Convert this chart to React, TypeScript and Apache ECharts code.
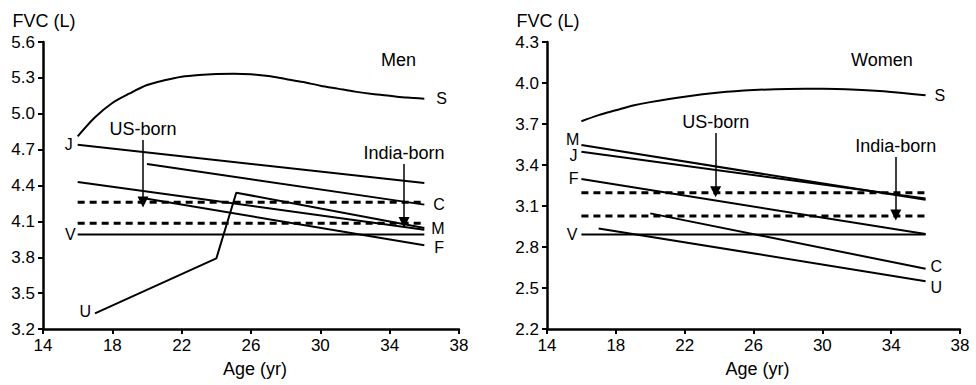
import React, { useEffect, useRef } from "react";
import * as echarts from "echarts";

const FONT = "'Liberation Sans', Arial, sans-serif";

const xTicks = [14, 18, 22, 26, 30, 34, 38];
const menYTicks = [3.2, 3.5, 3.8, 4.1, 4.4, 4.7, 5.0, 5.3, 5.6];
const womenYTicks = [2.2, 2.5, 2.8, 3.1, 3.4, 3.7, 4.0, 4.3];

// ---- Men ----
const menS_age = [16, 17, 18, 19, 20, 21, 22, 23, 24, 25, 26, 27, 28, 29, 30, 31, 32, 33, 34, 35, 36];
const menS_fvc = [4.81, 4.97, 5.09, 5.17, 5.24, 5.28, 5.31, 5.325, 5.333, 5.335, 5.33, 5.315, 5.29, 5.265, 5.235, 5.21, 5.185, 5.165, 5.15, 5.135, 5.125];
const menJ_age = [16, 36];
const menJ_fvc = [4.74, 4.42];
const menC_age = [20, 36];
const menC_fvc = [4.58, 4.24];
const menM_age = [16, 36];
const menM_fvc = [4.43, 4.03];
const menF_age = [20, 36];
const menF_fvc = [4.29, 3.9];
const menV_age = [16, 36];
const menV_fvc = [3.99, 3.99];
const menU_age = [17, 24, 25.15, 36];
const menU_fvc = [3.33, 3.79, 4.34, 4.045];
const menUS_age = [16, 36];
const menUS_fvc = [4.26, 4.26];
const menIndia_age = [16, 36];
const menIndia_fvc = [4.085, 4.085];
const menUSArrow = { age: 19.77, from: 4.78, to: 4.262 };
const menIndiaArrow = { age: 34.83, from: 4.58, to: 4.09 };

// ---- Women ----
const womenS_age = [16, 17, 18, 19, 20, 22, 24, 26, 28, 30, 32, 34, 36];
const womenS_fvc = [3.72, 3.765, 3.8, 3.835, 3.86, 3.9, 3.93, 3.948, 3.957, 3.958, 3.95, 3.935, 3.91];
const womenM_age = [16, 36];
const womenM_fvc = [3.546, 3.145];
const womenJ_age = [16, 36];
const womenJ_fvc = [3.497, 3.155];
const womenF_age = [16, 36];
const womenF_fvc = [3.297, 2.895];
const womenV_age = [16, 36];
const womenV_fvc = [2.892, 2.892];
const womenC_age = [20, 36];
const womenC_fvc = [3.046, 2.641];
const womenU_age = [17, 36];
const womenU_fvc = [2.936, 2.55];
const womenUS_age = [16, 36];
const womenUS_fvc = [3.197, 3.197];
const womenIndia_age = [16, 36];
const womenIndia_fvc = [3.026, 3.026];
const womenUSArrow = { age: 23.8, from: 3.634, to: 3.205 };
const womenIndiaArrow = { age: 34.27, from: 3.458, to: 3.035 };

const TXT = 18;
const TICK = 17;
const LETTER = 16;

type Lab = { text: string; at: "start" | "end"; distance?: number; offset?: [number, number] };

function lineSeries(g: number, ages: number[], vals: number[], lab?: Lab, opts: any = {}) {
  const data = ages.map((a, i) => {
    const item: any = { value: [a, vals[i]] };
    if (lab && ((lab.at === "start" && i === 0) || (lab.at === "end" && i === ages.length - 1))) {
      item.label = {
        show: true,
        formatter: lab.text,
        position: lab.at === "start" ? "left" : "right",
        distance: lab.distance ?? 5,
        offset: lab.offset ?? [0, 0],
        color: "#000",
        fontSize: LETTER,
        lineHeight: 14,
        fontFamily: FONT,
      };
    }
    return item;
  });
  return {
    type: "line",
    xAxisIndex: g,
    yAxisIndex: g,
    data,
    symbol: "circle",
    symbolSize: 0,
    showSymbol: true,
    smooth: opts.smooth ?? false,
    silent: true,
    clip: false,
    itemStyle: { color: "#000" },
    lineStyle: { color: "#000", width: opts.width ?? 2, type: opts.dash ?? "solid" },
    emphasis: { disabled: true },
    markLine: opts.markLine,
    z: opts.z ?? 2,
  };
}

function arrow(a: { age: number; from: number; to: number }, text: string) {
  return {
    silent: true,
    symbol: ["none", "triangle"],
    symbolSize: 11,
    lineStyle: { color: "#000", width: 1.5, type: "solid" },
    label: { show: true, position: "start", formatter: text, fontSize: TXT, color: "#000", fontFamily: FONT, distance: 2 },
    emphasis: { disabled: true },
    data: [[{ coord: [a.age, a.from] }, { coord: [a.age, a.to] }]],
  };
}

function xAxis(g: number) {
  return {
    gridIndex: g,
    type: "value",
    min: 14,
    max: 38,
    axisLine: { show: true, lineStyle: { color: "#000", width: 2.5 } },
    axisTick: { show: true, length: 5, lineStyle: { color: "#000", width: 2 }, customValues: xTicks },
    axisLabel: { customValues: xTicks, fontSize: TICK, color: "#000", margin: 8, fontFamily: FONT },
    splitLine: { show: false },
    name: "Age (yr)",
    nameLocation: "middle",
    nameGap: 31,
    nameTextStyle: { fontSize: TXT, color: "#000", fontFamily: FONT, padding: [0, 0, 0, 8] },
  };
}

function yAxis(g: number, min: number, max: number, ticks: number[]) {
  return {
    gridIndex: g,
    type: "value",
    min,
    max,
    axisLine: { show: true, lineStyle: { color: "#000", width: 2.5 } },
    axisTick: { show: true, length: 5, lineStyle: { color: "#000", width: 2 }, customValues: ticks },
    axisLabel: {
      customValues: ticks,
      fontSize: TICK,
      color: "#000",
      margin: 8,
      fontFamily: FONT,
      formatter: (v: number) => v.toFixed(1),
    },
    splitLine: { show: false },
    name: "FVC (L)",
    nameLocation: "end",
    nameGap: 12,
    nameTextStyle: { fontSize: TXT, color: "#000", fontFamily: FONT, padding: [0, 0, 0, 2] },
  };
}

export default function App() {
  const ref = useRef<HTMLDivElement>(null);
  useEffect(() => {
    if (!ref.current) return;
    const chart = echarts.init(ref.current, null, { renderer: "svg" });
    const option: any = {
      animation: false,
      backgroundColor: "#fff",
      grid: [
        { left: 43, top: 42, width: 416, height: 287 },
        { left: 547, top: 42, width: 413, height: 287 },
      ],
      xAxis: [xAxis(0), xAxis(1)],
      yAxis: [yAxis(0, 3.2, 5.6, menYTicks), yAxis(1, 2.2, 4.3, womenYTicks)],
      graphic: [
        { type: "text", left: 381, top: 51, style: { text: "Men", fill: "#000", font: `${TXT}px ${FONT}` } },
        { type: "text", left: 851, top: 51, style: { text: "Women", fill: "#000", font: `${TXT}px ${FONT}` } },
      ],
      series: [
        // Men
        lineSeries(0, menS_age, menS_fvc, { text: "S", at: "end", distance: 12 }, { smooth: 0.3 }),
        lineSeries(0, menJ_age, menJ_fvc, { text: "J", at: "start", distance: 5 }),
        lineSeries(0, menC_age, menC_fvc, { text: "C", at: "end", distance: 9 }),
        lineSeries(0, menM_age, menM_fvc, { text: "M", at: "end", distance: 7, offset: [0, -1] }),
        lineSeries(0, menF_age, menF_fvc, { text: "F", at: "end", distance: 10, offset: [0, 2] }),
        lineSeries(0, menV_age, menV_fvc, { text: "V", at: "start", distance: 2 }),
        lineSeries(0, menU_age, menU_fvc, { text: "U", at: "start", distance: 4, offset: [0, -2] }),
        lineSeries(0, menUS_age, menUS_fvc, undefined, { dash: [7, 5], width: 3, markLine: arrow(menUSArrow, "US-born") }),
        lineSeries(0, menIndia_age, menIndia_fvc, undefined, { dash: [7, 5], width: 3, markLine: arrow(menIndiaArrow, "India-born") }),
        // Women
        lineSeries(1, womenS_age, womenS_fvc, { text: "S", at: "end", distance: 9 }, { smooth: 0.3 }),
        lineSeries(1, womenM_age, womenM_fvc, { text: "M", at: "start", distance: 2, offset: [0, -6] }),
        lineSeries(1, womenJ_age, womenJ_fvc, { text: "J", at: "start", distance: 4, offset: [0, 4] }),
        lineSeries(1, womenF_age, womenF_fvc, { text: "F", at: "start", distance: 3, offset: [0, -1] }),
        lineSeries(1, womenV_age, womenV_fvc, { text: "V", at: "start", distance: 4 }),
        lineSeries(1, womenC_age, womenC_fvc, { text: "C", at: "end", distance: 5, offset: [0, -2] }),
        lineSeries(1, womenU_age, womenU_fvc, { text: "U", at: "end", distance: 5, offset: [0, 6] }),
        lineSeries(1, womenUS_age, womenUS_fvc, undefined, { dash: [7, 5], width: 3, markLine: arrow(womenUSArrow, "US-born") }),
        lineSeries(1, womenIndia_age, womenIndia_fvc, undefined, { dash: [7, 5], width: 3, markLine: arrow(womenIndiaArrow, "India-born") }),
      ],
    };
    chart.setOption(option);
    return () => chart.dispose();
  }, []);
  return (
    <div
      ref={ref}
      style={{ position: "absolute", left: 0, top: 0, width: 976, height: 385, background: "#fff" }}
    />
  );
}
